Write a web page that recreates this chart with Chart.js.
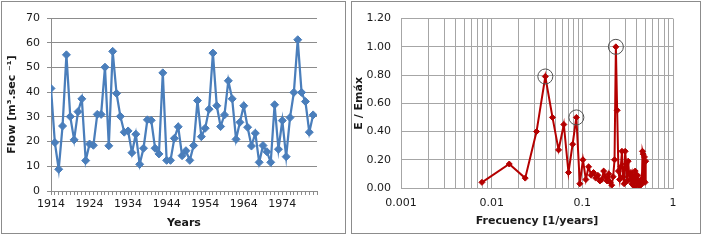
<!DOCTYPE html>
<html>
<head>
<meta charset="utf-8">
<script src="https://cdn.jsdelivr.net/npm/chart.js@4.4.1/dist/chart.umd.min.js"></script>
<style>
  body { margin: 0; background: #fff; width: 709px; height: 241px; overflow: hidden; position: relative; }
  .panel { position: absolute; top: 1px; height: 231px; border: 1px solid #8c8c8c; background: #fff; }
  #leftPanel { left: 1px; width: 343px; }
  #rightPanel { left: 351px; width: 348px; }
  canvas { display: block; }
</style>
</head>
<body>
<div class="panel" id="leftPanel"><canvas id="flowChart" width="343" height="231"></canvas></div>
<div class="panel" id="rightPanel"><canvas id="specChart" width="348" height="231"></canvas></div>
<script>
// annual flow series, 1914..1982
const firstYear = 1914;
const flow = [
  41.5, 19.6, 8.8, 26.3, 55.1, 30.1, 20.7, 32.1, 37.3, 12.3,
  19.0, 18.5, 31.0, 31.0, 50.1, 18.3, 56.5, 39.5, 30.2, 23.8,
  24.3, 15.5, 23.0, 10.8, 17.3, 28.8, 28.6, 17.3, 15.0, 47.8,
  12.4, 12.4, 21.3, 26.0, 14.3, 16.3, 12.4, 18.4, 36.6, 22.0,
  25.4, 33.1, 55.8, 34.5, 26.1, 30.8, 44.6, 37.3, 20.9, 27.8,
  34.5, 25.8, 18.2, 23.4, 11.6, 18.4, 15.9, 11.6, 34.9, 16.9,
  28.5, 13.9, 29.7, 39.9, 61.2, 39.9, 36.2, 23.8, 30.8
];
const yearLabels = [1914, 1924, 1934, 1944, 1954, 1964, 1974];
const yearMax = 1983;

// normalised spectrum, frequencies k/128 for k = 1..64
const nfft = 128;
const energy = [
  0.04, 0.17, 0.07, 0.40, 0.79, 0.50, 0.27, 0.45, 0.11, 0.31,
  0.50, 0.03, 0.20, 0.06, 0.15, 0.09, 0.11, 0.07, 0.09, 0.05,
  0.06, 0.12, 0.08, 0.05, 0.10, 0.04, 0.02, 0.08, 0.20, 1.00,
  0.55, 0.12, 0.06, 0.15, 0.26, 0.08, 0.03, 0.26, 0.17, 0.05,
  0.19, 0.10, 0.06, 0.11, 0.03, 0.09, 0.05, 0.01, 0.12, 0.07,
  0.04, 0.09, 0.03, 0.01, 0.05, 0.02, 0.06, 0.03, 0.26, 0.24,
  0.05, 0.22, 0.04, 0.19
];
const peakK = [5, 11, 30];
const freqLabels = ["0.001", "0.01", "0.1", "1"];

Chart.defaults.font.family = "DejaVu Sans";
Chart.defaults.font.size = 11;
Chart.defaults.color = "#1a1a1a";

const flowPoints = flow.map((v, i) => ({ x: firstYear + i, y: v }));
const specPoints = energy.map((v, i) => ({ x: (i + 1) / nfft, y: v }));
const peakPoints = peakK.map((k) => specPoints[k - 1]);

const blue = "#4a7ebb";
const red = "#b40000";

new Chart(document.getElementById("flowChart"), {
  type: "line",
  data: {
    datasets: [{
      data: flowPoints,
      borderColor: blue,
      backgroundColor: blue,
      borderWidth: 2.25,
      pointStyle: "rectRot",
      pointRadius: 4,
      pointBorderWidth: 1,
      tension: 0,
    }],
  },
  options: {
    responsive: false,
    animation: false,
    devicePixelRatio: 1,
    layout: { padding: { left: 0, right: 28, top: 16, bottom: 0 } },
    plugins: { legend: { display: false }, tooltip: { enabled: false } },
    scales: {
      x: {
        type: "linear",
        min: firstYear,
        max: yearMax,
        afterBuildTicks(scale) {
          const ticks = [];
          for (let y = firstYear; y <= yearMax; y++) ticks.push({ value: y });
          scale.ticks = ticks;
        },
        afterFit(scale) { scale.height = 42; },
        ticks: {
          autoSkip: false,
          maxRotation: 0,
          padding: 3,
          callback: (v) => (yearLabels.includes(v) ? String(v) : ""),
        },
        grid: { drawOnChartArea: false, drawTicks: true, tickLength: 4, color: "#8c8c8c" },
        border: { color: "#8c8c8c" },
        title: { display: true, text: "Years", font: { weight: "bold", size: 11 }, padding: { top: 0, bottom: 3 } },
      },
      y: {
        min: 0,
        max: 70,
        afterFit(scale) { scale.width = 49; },
        ticks: { stepSize: 10, padding: 7 },
        grid: { color: "#8c8c8c", tickLength: 4 },
        border: { color: "#8c8c8c" },
        title: { display: true, text: "Flow [m³.sec ⁻¹]", font: { weight: "bold", size: 11 }, padding: { top: 4, bottom: 0 } },
      },
    },
  },
});

new Chart(document.getElementById("specChart"), {
  type: "line",
  data: {
    datasets: [
      {
        data: peakPoints,
        showLine: false,
        pointStyle: "circle",
        pointRadius: 7.5,
        pointBorderWidth: 1,
        pointBorderColor: "#505050",
        pointBackgroundColor: "rgba(0,0,0,0)",
      },
      {
        data: specPoints,
        borderColor: red,
        backgroundColor: red,
        borderWidth: 2,
        pointStyle: "rectRot",
        pointRadius: 3,
        pointBorderWidth: 1,
        tension: 0,
      },
    ],
  },
  options: {
    responsive: false,
    animation: false,
    devicePixelRatio: 1,
    layout: { padding: { left: 0, right: 27, top: 16, bottom: 0 } },
    plugins: { legend: { display: false }, tooltip: { enabled: false } },
    scales: {
      x: {
        type: "logarithmic",
        min: 0.001,
        max: 1,
        afterBuildTicks(scale) {
          const ticks = [];
          for (let d = -3; d < 0; d++) {
            for (let m = 1; m <= 9; m++) ticks.push({ value: Number((m * Math.pow(10, d)).toPrecision(3)) });
          }
          ticks.push({ value: 1 });
          scale.ticks = ticks;
        },
        afterFit(scale) { scale.height = 45; },
        ticks: {
          autoSkip: false,
          maxRotation: 0,
          padding: 9,
          callback: (v) => freqLabels.find((l) => Math.abs(Number(l) - v) < 1e-9) || "",
        },
        grid: { color: "#a6a6a6", drawTicks: false },
        border: { color: "#a6a6a6" },
        title: { display: true, text: "Frecuency [1/years]", font: { weight: "bold", size: 11 }, padding: { top: 0, bottom: 5 } },
      },
      y: {
        min: 0,
        max: 1.2,
        afterFit(scale) { scale.width = 49; },
        ticks: { stepSize: 0.2, padding: 10, callback: (v) => Number(v).toFixed(2) },
        grid: { color: "#a6a6a6", drawTicks: false },
        border: { color: "#a6a6a6" },
        title: { display: true, text: "E / Emáx", font: { weight: "bold", size: 11 }, padding: { top: 1, bottom: 0 } },
      },
    },
  },
});
</script>
</body>
</html>
